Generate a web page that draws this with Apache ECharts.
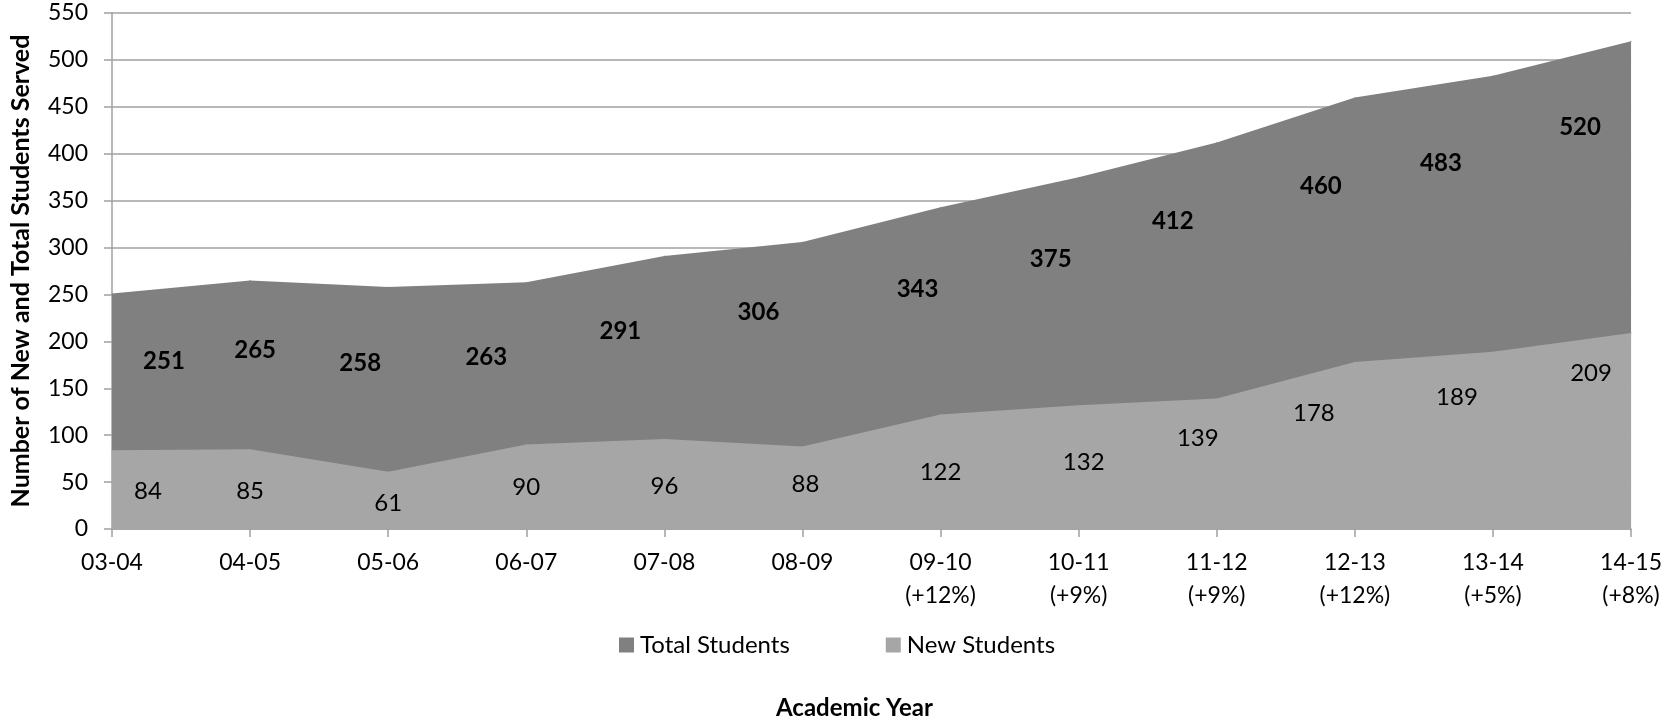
<!DOCTYPE html>
<html>
<head>
<meta charset="utf-8">
<title>New and Total Students Served</title>
<script src="https://cdn.jsdelivr.net/npm/echarts@6/dist/echarts.min.js"></script>
<style>
  html, body { margin: 0; padding: 0; background: #fff; }
  #chart { width: 1665px; height: 721px; }
</style>
</head>
<body>
<div id="chart"></div>
<script>
// academic years and the year-over-year growth shown under some of them
const years = ['03-04', '04-05', '05-06', '06-07', '07-08', '08-09', '09-10', '10-11', '11-12', '12-13', '13-14', '14-15']
const growth = ['', '', '', '', '', '', '+12%', '+9%', '+9%', '+12%', '+5%', '+8%']

const totalStudents = [251, 265, 258, 263, 291, 306, 343, 375, 412, 460, 483, 520]
const newStudents = [84, 85, 61, 90, 96, 88, 122, 132, 139, 178, 189, 209]

// label nudges (px) so the value labels sit where the original ones do
const totalLabelShift = [[52, 68], [5, 70], [-28, 76], [-40, 75], [-44, 75], [-44, 70], [-23, 82], [-28, 82], [-44, 79], [-34, 89], [-52, 87], [-51, 86]]
const newLabelShift = [[36, 41], [0, 42], [0, 31], [0, 43], [0, 47], [3, 38], [0, 58], [5, 57], [-19, 40], [-41, 51], [-36, 46], [-40, 40]]

const font = 'Lato, "Open Sans", sans-serif'
const axisGray = '#a0a0a0'

const xLabels = years.map((y, i) => growth[i] ? y + '\n(' + growth[i] + ')' : y)

const withShift = (values, shifts) => values.map((v, i) => ({
  value: v,
  label: { offset: shifts[i] }
}))

const chart = echarts.init(document.getElementById('chart'), null, { renderer: 'canvas' })

const option = {
  animation: false,
  backgroundColor: '#ffffff',
  textStyle: { fontFamily: font, color: '#000' },
  title: {
    text: 'Academic Year',
    left: 771,
    top: 691,
    textStyle: { fontFamily: font, fontSize: 24, fontWeight: 'bold', color: '#000' }
  },
  legend: {
    left: 614,
    top: 628,
    icon: 'rect',
    itemWidth: 15,
    itemHeight: 15,
    itemGap: 96,
    data: ['Total Students', 'New Students'],
    textStyle: { fontFamily: font, fontSize: 24, color: '#000', padding: [0, 0, 0, 1] }
  },
  grid: {
    left: 105,
    right: 32,
    top: 13,
    bottom: 192,
    containLabel: false
  },
  xAxis: {
    type: 'category',
    boundaryGap: false,
    data: xLabels,
    axisLine: { lineStyle: { color: axisGray, width: 1.5 } },
    axisTick: { show: true, length: 8, lineStyle: { color: axisGray, width: 1.5 } },
    axisLabel: {
      color: '#000',
      fontFamily: font,
      fontSize: 23,
      lineHeight: 33,
      margin: 17,
      interval: 0
    },
    splitLine: { show: false }
  },
  yAxis: {
    type: 'value',
    min: 0,
    max: 550,
    interval: 50,
    name: 'Number of New and Total Students Served',
    nameLocation: 'middle',
    nameRotate: 90,
    nameGap: 79,
    nameTextStyle: { fontFamily: font, fontSize: 25, fontWeight: 'bold', color: '#000' },
    axisLine: { show: true, lineStyle: { color: axisGray, width: 1.5 } },
    axisTick: { show: true, length: 8, lineStyle: { color: axisGray, width: 1.5 } },
    axisLabel: { color: '#000', fontFamily: font, fontSize: 23, margin: 24 },
    splitLine: { lineStyle: { color: axisGray, width: 1.5 } }
  },
  series: [
    {
      name: 'Total Students',
      type: 'line',
      data: withShift(totalStudents, totalLabelShift),
      symbol: 'circle',
      symbolSize: 1,
      itemStyle: { color: '#808080' },
      lineStyle: { width: 0 },
      areaStyle: { color: '#808080', opacity: 1 },
      label: {
        show: true,
        position: 'inside',
        fontFamily: font,
        fontSize: 24,
        fontWeight: 'bold',
        color: '#000'
      },
      z: 2
    },
    {
      name: 'New Students',
      type: 'line',
      data: withShift(newStudents, newLabelShift),
      symbol: 'circle',
      symbolSize: 1,
      itemStyle: { color: '#a6a6a6' },
      lineStyle: { width: 0 },
      areaStyle: { color: '#a6a6a6', opacity: 1 },
      label: {
        show: true,
        position: 'inside',
        fontFamily: font,
        fontSize: 24,
        color: '#000'
      },
      z: 3
    }
  ]
}

chart.setOption(option)
window.addEventListener('resize', () => chart.resize())
</script>
</body>
</html>
